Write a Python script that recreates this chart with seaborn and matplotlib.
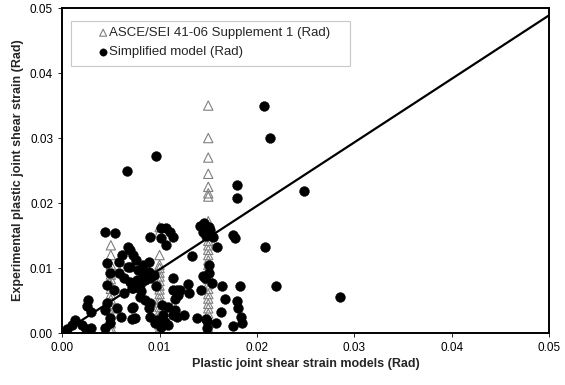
import numpy as np
import pandas as pd
import matplotlib
matplotlib.use("Agg")
import matplotlib.pyplot as plt
from matplotlib.patches import Rectangle
import seaborn as sns

# ---------------------------
# Data
# ---------------------------
asce_x = [0.005] * 17 + [0.010] * 20 + [0.015] * 30
asce_y = [
    # 0.005 column
    0.0135, 0.0120, 0.0105, 0.0097, 0.0090, 0.0083, 0.0075, 0.0068, 0.0060,
    0.0052, 0.0045, 0.0038, 0.0030, 0.0022, 0.0015, 0.0008, 0.0002,
    # 0.010 column
    0.0163, 0.0155, 0.0120, 0.0105, 0.0100, 0.0093, 0.0087, 0.0080, 0.0073,
    0.0067, 0.0060, 0.0053, 0.0047, 0.0040, 0.0033, 0.0027, 0.0020, 0.0013,
    0.0007, 0.0002,
    # 0.015 column
    0.0350, 0.0300, 0.0270, 0.0245, 0.0225, 0.0215, 0.0210, 0.0172, 0.0165,
    0.0158, 0.0150, 0.0142, 0.0135, 0.0128, 0.0120, 0.0112, 0.0105, 0.0098,
    0.0090, 0.0083, 0.0075, 0.0068, 0.0060, 0.0053, 0.0045, 0.0038, 0.0030,
    0.0022, 0.0015, 0.0008,
]

simp_x = [
    0.0005, 0.0010, 0.0013, 0.0020, 0.0024, 0.0030, 0.0044, 0.0049, 0.0027,
    0.0025, 0.0030, 0.0049, 0.0060, 0.0072, 0.0046, 0.0044, 0.0056, 0.0072,
    0.0044, 0.0054, 0.0068, 0.0061, 0.0046, 0.0058, 0.0068, 0.0049, 0.0058,
    0.0063, 0.0070, 0.0046, 0.0053, 0.0063, 0.0072, 0.0070, 0.0073, 0.0070,
    0.0083, 0.0089, 0.0078, 0.0083, 0.0089, 0.0094, 0.0090, 0.0085, 0.0077,
    0.0080, 0.0073, 0.0080, 0.0085, 0.0090, 0.0089, 0.0073, 0.0075, 0.0090,
    0.0095, 0.0096, 0.0081, 0.0076, 0.0097, 0.0090, 0.0096, 0.0067,
    0.0101, 0.0107, 0.0111, 0.0114, 0.0101, 0.0107, 0.0102, 0.0104, 0.0106,
    0.0109, 0.0101, 0.0109,
    0.0114, 0.0114, 0.0118, 0.0119, 0.0116, 0.0116, 0.0114, 0.0118, 0.0125,
    0.0130, 0.0129, 0.0133, 0.0138, 0.0145, 0.0143, 0.0121,
    0.0142, 0.0146, 0.0149, 0.0145, 0.0152, 0.0148, 0.0155, 0.0151, 0.0159,
    0.0151, 0.0151, 0.0147, 0.0154, 0.0149, 0.0158, 0.0148, 0.0149,
    0.0175, 0.0177, 0.0164, 0.0183, 0.0167, 0.0180, 0.0181, 0.0163, 0.0175,
    0.0184, 0.0185, 0.0180, 0.0180,
    0.0207, 0.0213, 0.0208, 0.0220, 0.0248, 0.0285,
]
simp_y = [
    0.0006, 0.0012, 0.0020, 0.0012, 0.0006, 0.0007, 0.0007, 0.0015, 0.0051,
    0.0042, 0.0033, 0.0023, 0.0025, 0.0021, 0.0046, 0.0035, 0.0039, 0.0039,
    0.0156, 0.0154, 0.0132, 0.0120, 0.0107, 0.0110, 0.0102, 0.0092, 0.0092,
    0.0084, 0.0079, 0.0074, 0.0066, 0.0061, 0.0069, 0.0128, 0.0120, 0.0102,
    0.0105, 0.0110, 0.0097, 0.0092, 0.0094, 0.0089, 0.0084, 0.0082, 0.0082,
    0.0074, 0.0069, 0.0056, 0.0051, 0.0046, 0.0038, 0.0040, 0.0023, 0.0025,
    0.0015, 0.0072, 0.0064, 0.0112, 0.0020, 0.0147, 0.0272, 0.0250,
    0.0161, 0.0161, 0.0156, 0.0148, 0.0146, 0.0135, 0.0043, 0.0028, 0.0017,
    0.0012, 0.0010, 0.0040,
    0.0084, 0.0066, 0.0066, 0.0058, 0.0052, 0.0035, 0.0028, 0.0025, 0.0028,
    0.0061, 0.0076, 0.0119, 0.0023, 0.0087, 0.0066, 0.0066,
    0.0165, 0.0169, 0.0160, 0.0155, 0.0158, 0.0150, 0.0148, 0.0163, 0.0133,
    0.0105, 0.0092, 0.0085, 0.0077, 0.0019, 0.0015, 0.0021, 0.0008,
    0.0151, 0.0146, 0.0073, 0.0073, 0.0053, 0.0050, 0.0039, 0.0033, 0.0011,
    0.0025, 0.0015, 0.0228, 0.0208,
    0.0350, 0.0300, 0.0133, 0.0073, 0.0218, 0.0056,
]

# reference line through the origin
ref_x = [0.0, 0.05]
ref_y = [0.0, 0.0489]

ticks = [0.00, 0.01, 0.02, 0.03, 0.04, 0.05]
tick_labels = ["0.00", "0.01", "0.02", "0.03", "0.04", "0.05"]

asce_df = pd.DataFrame({"x": asce_x, "y": asce_y})
simp_df = pd.DataFrame({"x": simp_x, "y": simp_y})
ref_df = pd.DataFrame({"x": ref_x, "y": ref_y})

# ---------------------------
# Plot
# ---------------------------
sns.set_style("white")
plt.rcParams["font.family"] = ["Liberation Sans", "DejaVu Sans"]

fig = plt.figure(figsize=(5.65, 3.85), dpi=100)
ax = fig.add_axes([0.110, 0.135, 0.862, 0.844])

sns.scatterplot(data=asce_df, x="x", y="y", marker="^", s=45,
                facecolors="none", edgecolor="#808080", linewidth=0.8,
                label="ASCE/SEI 41-06 Supplement 1 (Rad)", ax=ax, zorder=2)
sns.scatterplot(data=simp_df, x="x", y="y", marker="o", s=50,
                color="black", edgecolor="black", linewidth=0.3,
                label="Simplified model (Rad)", ax=ax, zorder=3)
sns.lineplot(data=ref_df, x="x", y="y", color="black", lw=1.6,
             ax=ax, zorder=4, legend=False)

ax.set_xlim(0, 0.05)
ax.set_ylim(0, 0.05)
ax.set_xticks(ticks)
ax.set_xticklabels(tick_labels)
ax.set_yticks(ticks)
ax.set_yticklabels(tick_labels)
ax.tick_params(direction="out", length=3, width=0.6, labelsize=8.5,
               bottom=True, left=True, colors="black")

for sp in ax.spines.values():
    sp.set_color("black")
    sp.set_linewidth(1.4)

ax.set_xlabel("Plastic joint shear strain models (Rad)", fontsize=9,
              fontweight="bold", labelpad=3)
ax.set_ylabel("Experimental plastic joint shear strain (Rad)", fontsize=9,
              fontweight="bold", labelpad=4)

# legend box drawn separately, legend itself without frame
box = Rectangle((0.0185, 0.822), 0.573, 0.139, transform=ax.transAxes,
                facecolor="white", edgecolor="#c8c8c8", linewidth=0.8,
                zorder=5)
ax.add_patch(box)

leg = ax.legend(loc="upper left", bbox_to_anchor=(0.076, 0.942),
                fontsize=9.5, frameon=False, handlelength=0.6,
                handletextpad=0.15, borderpad=0, labelspacing=0.5,
                borderaxespad=0, markerscale=0.75)
leg.set_zorder(6)

fig.savefig("out.png", dpi=100)
plt.close(fig)
